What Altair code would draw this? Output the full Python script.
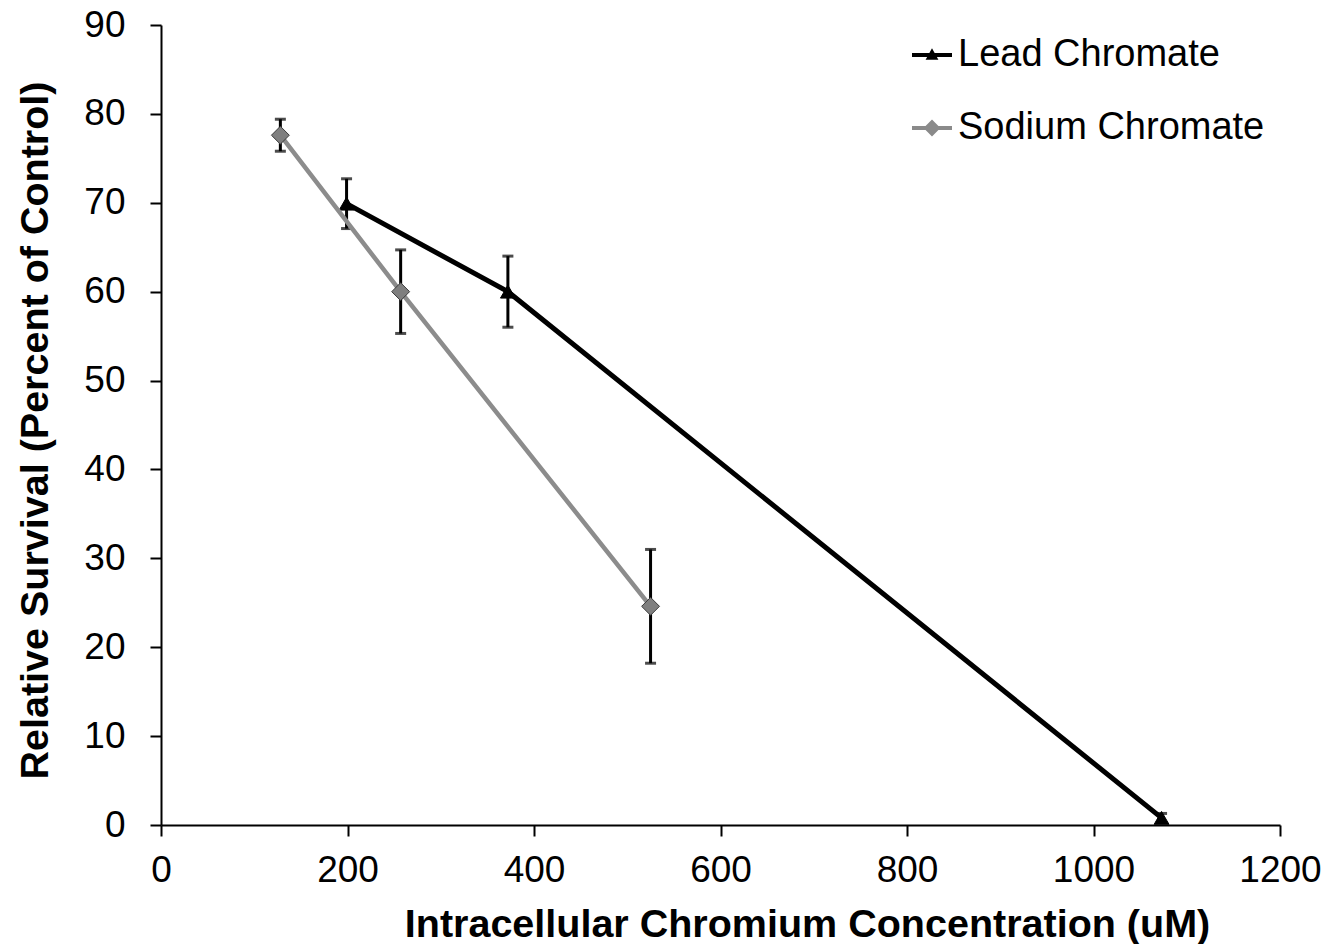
import altair as alt
import pandas as pd

# ---- data ----
series_names = ["Lead Chromate", "Sodium Chromate"]

lead_x = [199, 372, 1073]
lead_y = [69.9, 60.0, 0.8]
lead_err = [2.8, 4.0, 0.5]

sodium_x = [128, 257, 525]
sodium_y = [77.6, 60.0, 24.6]
sodium_err = [1.8, 4.7, 6.4]

x_ticks = [0, 200, 400, 600, 800, 1000, 1200]
y_ticks = [0, 10, 20, 30, 40, 50, 60, 70, 80, 90]

x_title = "Intracellular Chromium Concentration (uM)"
y_title = "Relative Survival (Percent of Control)"

rows = []
for name, xs, ys, es in [(series_names[0], lead_x, lead_y, lead_err),
                         (series_names[1], sodium_x, sodium_y, sodium_err)]:
    for x, y, e in zip(xs, ys, es):
        rows.append({"series": name, "x": x, "y": y, "lo": y - e, "hi": y + e})
df = pd.DataFrame(rows)

FONT = "Liberation Sans"
LEAD_C = "#000000"
SOD_LINE = "#8c8c8c"
SOD_FILL = "#7f7f7f"

xscale = alt.Scale(domain=[0, 1200], nice=False, zero=False)
yscale = alt.Scale(domain=[0, 90], nice=False, zero=False)

x_axis = alt.Axis(
    values=x_ticks, title=x_title, grid=False, format="d",
    domainColor="black", domainWidth=2, tickColor="black", tickWidth=2, tickSize=11,
    labelFont=FONT, labelFontSize=37, labelColor="black", labelPadding=16,
    labelFlush=False, labelOverlap=False,
    titleFont=FONT, titleFontSize=39.5, titleFontWeight="bold", titleColor="black",
    titleX=646, titleY=111, titleAlign="center", titleBaseline="alphabetic",
)
y_axis = alt.Axis(
    values=y_ticks, title=y_title, grid=False, format="d",
    domainColor="black", domainWidth=2, tickColor="black", tickWidth=2, tickSize=11,
    labelFont=FONT, labelFontSize=37, labelColor="black", labelPadding=25,
    labelFlush=False, labelOverlap=False,
    titleFont=FONT, titleFontSize=39.5, titleFontWeight="bold", titleColor="black",
    titleX=-114, titleY=405, titleAngle=270, titleAlign="center", titleBaseline="alphabetic",
)


def X(field="x"):
    return alt.X(f"{field}:Q", scale=xscale, axis=x_axis)


def Y(field="y"):
    return alt.Y(f"{field}:Q", scale=yscale, axis=y_axis)


base = alt.Chart(df)


def series_layers(name, line_color, line_w, shape, fill, stroke, size):
    d = base.transform_filter(alt.datum.series == name)
    line = d.mark_line(color=line_color, strokeWidth=line_w).encode(x=X(), y=Y())
    rule = d.mark_rule(color="black", strokeWidth=3).encode(
        x=X(), y=Y("lo"), y2=alt.Y2("hi"))
    cap_lo = d.mark_tick(orient="horizontal", color="black", size=11, thickness=3).encode(
        x=X(), y=Y("lo"))
    cap_hi = d.mark_tick(orient="horizontal", color="black", size=11, thickness=3).encode(
        x=X(), y=Y("hi"))
    pts = d.mark_point(shape=shape, filled=True, fill=fill, stroke=stroke, strokeWidth=1,
                       size=size, opacity=1).encode(x=X(), y=Y())
    return [line, rule, cap_lo, cap_hi, pts]


lead_layers = series_layers(series_names[0], LEAD_C, 5, "triangle-up", "black", "black", 220)
sod_layers = series_layers(series_names[1], SOD_LINE, 4.5, "diamond", SOD_FILL, "#3a3a3a", 320)

# legend-only layer (no data drawn): symbols combine a line and the marker
lead_sym = "M-1,-0.1L1,-0.1L1,0.1L-1,0.1Z M-0.32,0.24L0,-0.34L0.32,0.24Z"
sod_sym = "M-1,-0.1L1,-0.1L1,0.1L-1,0.1Z M0,-0.42L0.42,0L0,0.42L-0.42,0Z"

legend_def = dict(
    title=None, orient="none", legendX=751, legendY=10,
    labelFont=FONT, labelFontSize=38, labelColor="black", labelLimit=0,
    labelOffset=6, rowPadding=34, padding=0, symbolStrokeWidth=0, symbolSize=1600,
)

legend_layer = base.transform_filter("datum.x < -1000").mark_point(
    filled=True, size=1600, opacity=1
).encode(
    x=X(), y=Y(),
    color=alt.Color("series:N",
                    scale=alt.Scale(domain=series_names, range=["#000000", "#8a8a8a"]),
                    legend=alt.Legend(**legend_def)),
    shape=alt.Shape("series:N",
                    scale=alt.Scale(domain=series_names, range=[lead_sym, sod_sym]),
                    legend=alt.Legend(**legend_def)),
)

chart = alt.layer(*lead_layers, *sod_layers, legend_layer).properties(
    width=1119, height=800,
    padding={"left": 153, "top": 17, "right": 56, "bottom": 119},
    autosize=alt.AutoSizeParams(type="none"),
    background="white",
).configure_view(stroke=None)

chart.save("out.html", embed_options={"renderer": "svg", "actions": False})
